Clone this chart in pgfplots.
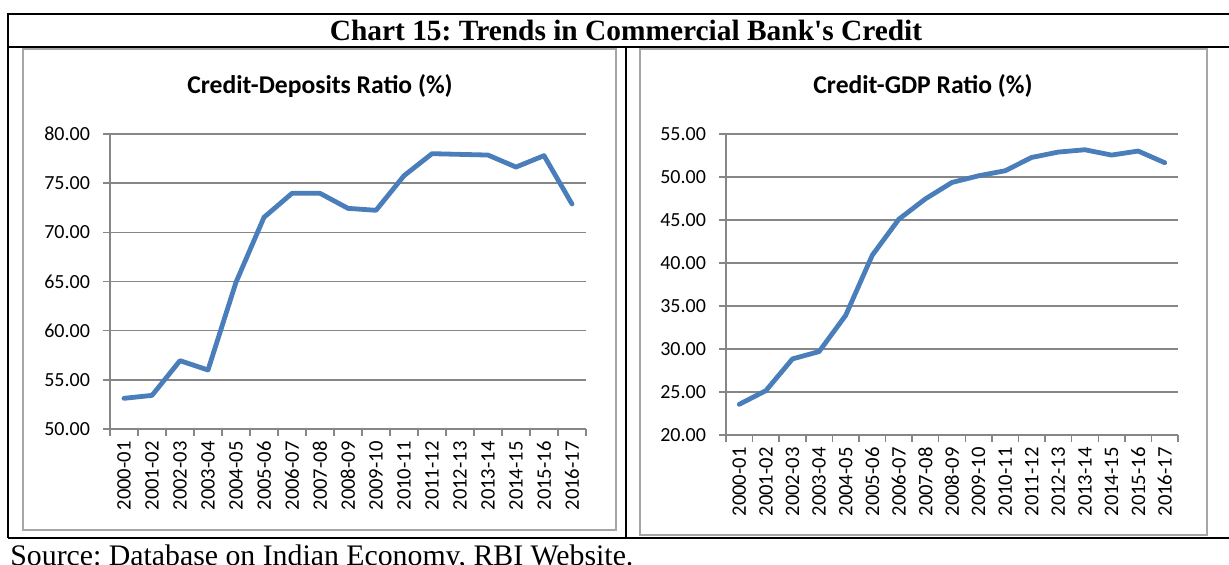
\documentclass[border=0pt]{standalone}
\usepackage{pgfplots}
\pgfplotsset{compat=1.18}
\usepackage{fontspec}
\setmainfont{Liberation Serif}
\newfontfamily\plainserif{Liberation Serif}[Ligatures=TeXOff]
\newfontfamily\carlito{Carlito}
\definecolor{xlblue}{HTML}{4A7EBB}
\definecolor{gridgray}{HTML}{868686}
\definecolor{framegray}{HTML}{A6A6A6}
\frenchspacing
\pgfplotstableread{
idx cd gdp
0 53.12 23.57
1 53.42 25.16
2 56.95 28.85
3 56.00 29.70
4 64.92 33.91
5 71.53 40.90
6 73.97 45.09
7 73.97 47.46
8 72.44 49.37
9 72.24 50.14
10 75.76 50.73
11 78.00 52.28
12 77.93 52.90
13 77.86 53.17
14 76.64 52.55
15 77.80 53.02
16 72.88 51.66
}\datatable
\pgfplotsset{
  xlstyle/.style={
    scale only axis,
    axis x line*=bottom, axis y line*=left,
    axis line style={gridgray, line width=0.75pt},
    ymajorgrids, grid style={gridgray, line width=0.75pt},
    xmin=-0.5, xmax=16.5,
    xtick={0,...,16},
    xticklabels={2000-01,2001-02,2002-03,2003-04,2004-05,2005-06,2006-07,2007-08,2008-09,2009-10,2010-11,2011-12,2012-13,2013-14,2014-15,2015-16,2016-17},
    major x tick style={draw=none},
    minor xtick={-0.5,0.5,...,16.5},
    minor x tick style={gridgray, line width=0.75pt},
    minor tick length=3.5pt,
    major tick length=3.5pt,
    y tick style={gridgray, line width=0.75pt},
    tick align=outside,
    tick pos=left,
    x tick label style={rotate=90, anchor=east, font=\carlito\fontsize{10.3}{12}\selectfont, inner sep=2.5pt},
    y tick label style={font=\carlito\fontsize{10}{12}\selectfont, xshift=-3pt},
    /pgf/number format/.cd, fixed, fixed zerofill, precision=2, assume math mode=true,
  }
}
\begin{document}
\begin{tikzpicture}
\useasboundingbox (0,0) rectangle (614.5pt,282pt);
\begin{scope}
\clip (0,0) rectangle (614.5pt,282pt);
% outer table lines
\draw[black, line width=1.3pt] (4pt,275pt) -- (620pt,275pt);
\draw[black, line width=1.3pt] (4pt,275.6pt) -- (4pt,13pt);
\draw[black, line width=1.1pt] (4pt,258.5pt) -- (620pt,258.5pt);
\draw[black, line width=1.3pt] (4pt,13pt) -- (620pt,13pt);
\draw[black, line width=1.1pt] (313pt,258.5pt) -- (313pt,13pt);
% chart frames
\draw[framegray, line width=1pt] (11.5pt,257.5pt) rectangle (308pt,17pt);
\draw[framegray, line width=1pt] (320pt,257.5pt) rectangle (603.5pt,14.5pt);
% titles
\node[font=\plainserif\bfseries\fontsize{14.7}{16}\selectfont] at (313pt,266.5pt) {Chart 15: Trends in Commercial Bank's Credit};
\node[font=\carlito\bfseries\fontsize{12.8}{14}\selectfont] at (160pt,239pt) {Credit-Deposits Ratio (\%)};
\node[font=\carlito\bfseries\fontsize{12.8}{14}\selectfont] at (461.5pt,239pt) {Credit-GDP Ratio (\%)};
\node[anchor=base west, font=\fontsize{14.9}{16}\selectfont, inner sep=0pt] at (5pt,-0.5pt) {Source: Database on Indian Economy, RBI Website.};
\end{scope}
\begin{axis}[xlstyle, at={(55pt,67.5pt)}, anchor=south west, width=238pt, height=147.5pt,
  ymin=50, ymax=80, ytick={50,55,...,80}]
\addplot[xlblue, line width=2.4pt, line join=round, line cap=round] table[x=idx, y=cd] {\datatable};
\end{axis}
\begin{axis}[xlstyle, at={(363pt,64.5pt)}, anchor=south west, width=226pt, height=150.5pt,
  ymin=20, ymax=55, ytick={20,25,...,55}]
\addplot[xlblue, line width=2.4pt, line join=round, line cap=round] table[x=idx, y=gdp] {\datatable};
\end{axis}
\end{tikzpicture}
\end{document}
